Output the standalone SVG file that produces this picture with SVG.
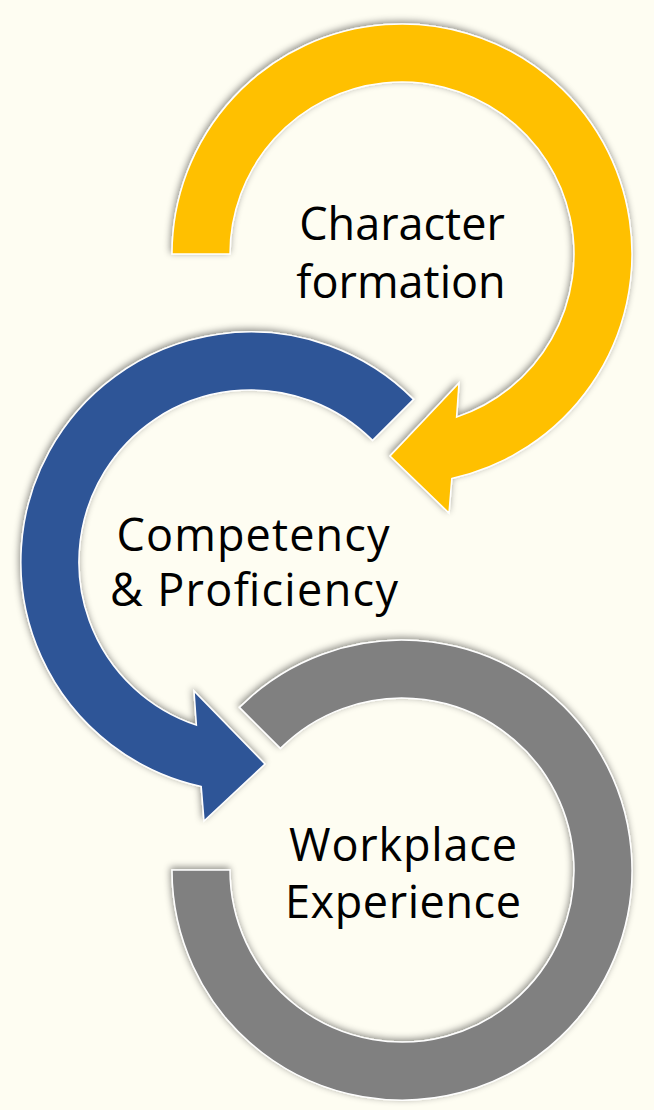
<svg xmlns="http://www.w3.org/2000/svg" width="654" height="1110" viewBox="0 0 654 1110">
  <style>
    .arc { stroke: #FFFFFF; stroke-width: 1.5; stroke-linejoin: miter; filter: url(#shadow); }
    .lbl { font-family: "Open Sans", "Noto Sans", "Liberation Sans", sans-serif; font-size: 45px; fill: #000000; text-anchor: middle; }
  </style>
  <defs>
    <filter id="shadow" x="-10%" y="-10%" width="120%" height="120%">
      <feGaussianBlur in="SourceAlpha" stdDeviation="3.5" result="b"/>
      <feOffset in="b" dx="-1" dy="-2" result="o"/>
      <feFlood flood-color="#000000" flood-opacity="0.45"/>
      <feComposite in2="o" operator="in" result="s"/>
      <feMerge>
        <feMergeNode in="s"/>
        <feMergeNode in="SourceGraphic"/>
      </feMerge>
    </filter>
  </defs>
  <rect width="654" height="1110" fill="#FEFDF2"/>

  <g id="node-workplace">
    <path class="arc" fill="#808080" d="M 239.4,707.4 A 230 230 0 1 1 172,870 L 230,870 A 172 172 0 1 0 280.4,748.4 Z"/>
    <text class="lbl" x="403" y="861" textLength="228" lengthAdjust="spacing">Workplace</text>
    <text class="lbl" x="403" y="918" textLength="236" lengthAdjust="spacing">Experience</text>
  </g>

  <g id="node-competency">
    <path class="arc" fill="#2F5597" d="M 413.6,399.4 A 230 230 0 1 0 201.2,786.5 L 204,821 L 265,764 L 194,691 L 196.4,725.1 A 172 172 0 1 1 372.6,440.4 Z"/>
    <text class="lbl" x="253" y="551" textLength="273" lengthAdjust="spacing">Competency</text>
    <text class="lbl" x="254" y="606" textLength="288" lengthAdjust="spacing">&amp; Proficiency</text>
  </g>

  <g id="node-character">
    <path class="arc" fill="#FFC000" d="M 172,254 A 230 230 0 1 1 451.8,478.5 L 449,513 L 390,456 L 459,383 L 456.6,417.1 A 172 172 0 1 0 230,254 Z"/>
    <text class="lbl" x="402" y="240">Character</text>
    <text class="lbl" x="401" y="298">formation</text>
  </g>

  <g id="connectors"></g>
</svg>
